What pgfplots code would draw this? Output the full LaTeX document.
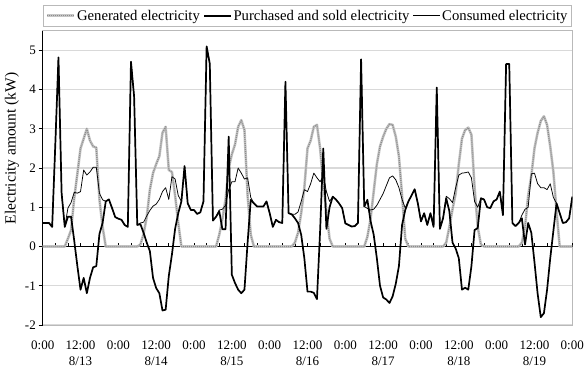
\documentclass[border=0pt]{standalone}
\usepackage{fontspec}
\setmainfont{Liberation Serif}
\usepackage{pgfplots}
\pgfplotsset{compat=1.18}
\usepackage{pgfplotstable}

% Hourly power flows over one week (kW)
% h: hours since 0:00 on 8/13; gen: generated; grid: purchased (+) / sold (-); use: consumed
\pgfplotstableread{
h gen grid use
0 0 0.60 0.60
1 0 0.60 0.60
2 0 0.60 0.60
3 0 0.50 0.50
4 0 2.60 2.60
5 0 4.82 4.82
6 0 1.36 1.36
7 0 0.50 0.50
8 0.20 0.76 0.98
9 0.42 0.76 1.12
10 1.23 0.15 1.38
11 1.86 -0.50 1.36
12 2.50 -1.10 1.40
13 2.75 -0.80 1.95
14 3.00 -1.19 1.82
15 2.70 -0.80 1.90
16 2.55 -0.53 2.02
17 2.52 -0.50 2.02
18 1.20 0.32 1.36
19 0.50 0.60 1.19
20 0 1.15 1.15
21 0 1.20 1.20
22 0 0.98 0.98
23 0 0.75 0.75
24 0 0.71 0.71
25 0 0.68 0.68
26 0 0.55 0.55
27 0 0.50 0.50
28 0 4.71 4.71
29 0 3.82 3.82
30 0 0.55 0.55
31 0.05 0.57 0.60
32 0.32 0.35 0.62
33 0.75 0.10 0.78
34 1.45 -0.12 0.92
35 1.87 -0.80 1.03
36 2.10 -1.06 1.08
37 2.30 -1.19 1.20
38 2.90 -1.63 1.40
39 3.05 -1.61 1.50
40 1.95 -0.75 1.20
41 1.90 -0.20 1.78
42 1.30 0.45 1.72
43 0.60 0.85 1.30
44 0 1.15 1.15
45 0 2.05 2.05
46 0 1.10 1.10
47 0 0.93 0.93
48 0 0.93 0.93
49 0 0.83 0.83
50 0 0.87 0.87
51 0 1.15 1.15
52 0 5.10 5.10
53 0 4.66 4.66
54 0 0.66 0.66
55 0 0.76 0.76
56 0.30 0.90 0.93
57 0.70 0.44 0.95
58 1.20 0.44 1.05
59 2.00 2.80 1.45
60 2.35 -0.72 1.65
61 2.60 -0.93 1.65
62 3.05 -1.10 2.00
63 3.22 -1.19 1.87
64 2.97 -1.10 1.72
65 1.30 0.10 1.75
66 0.30 1.19 1.25
67 0 1.10 1.10
68 0 1.02 1.02
69 0 1.02 1.02
70 0 1.02 1.02
71 0 1.15 1.15
72 0 0.85 0.85
73 0 0.50 0.50
74 0 0.68 0.68
75 0 0.62 0.62
76 0 0.60 0.60
77 0 4.20 4.20
78 0 0.85 0.85
79 0 0.82 0.82
80 0.10 0.72 0.82
81 0.35 0.60 0.88
82 0.85 0.30 1.15
83 1.50 -0.30 1.45
84 2.50 -1.15 1.40
85 2.70 -1.15 1.60
86 3.05 -1.18 1.87
87 3.10 -1.34 1.75
88 2.50 0.40 1.65
89 1.60 2.50 1.80
90 0.90 0.45 1.40
91 0.20 1.00 1.15
92 0 1.27 1.27
93 0 1.20 1.20
94 0 1.10 1.10
95 0 0.98 0.98
96 0 0.59 0.59
97 0 0.55 0.55
98 0 0.51 0.51
99 0 0.52 0.52
100 0 0.60 0.60
101 0 4.77 4.77
102 0 1.02 1.02
103 0.25 1.19 0.97
104 0.70 0.65 0.93
105 1.40 0.30 0.95
106 2.10 -0.30 1.05
107 2.55 -1.00 1.20
108 2.80 -1.30 1.35
109 3.00 -1.35 1.55
110 3.12 -1.44 1.75
111 3.10 -1.27 1.80
112 2.80 -0.95 1.70
113 2.30 -0.50 1.50
114 1.30 0.55 1.20
115 0.20 0.93 0.98
116 0 1.15 1.15
117 0 1.30 1.30
118 0 1.46 1.46
119 0 1.10 1.10
120 0 0.64 0.64
121 0 0.85 0.85
122 0 0.55 0.55
123 0 0.85 0.85
124 0 0.50 0.50
125 0 4.05 4.05
126 0 0.45 0.45
127 0 0.72 0.72
128 0.10 1.23 1.28
129 0.50 0.90 1.22
130 0.95 0.10 1.12
131 1.35 -0.05 1.50
132 2.10 -0.30 1.82
133 2.75 -1.10 1.87
134 2.97 -1.05 1.88
135 3.03 -1.10 1.90
136 2.85 -0.50 1.75
137 1.50 0.42 1.15
138 0.50 0.47 1.00
139 0.05 1.23 1.23
140 0 1.20 1.20
141 0 1.00 1.00
142 0 0.98 0.98
143 0 1.15 1.15
144 0 1.20 1.20
145 0 1.40 1.40
146 0 0.80 0.80
147 0 4.65 4.65
148 0 4.65 4.65
149 0 0.60 0.60
150 0 0.52 0.52
151 0 0.60 0.60
152 0.10 0.72 0.80
153 0.50 0.05 0.95
154 1.30 0.60 1.00
155 1.80 0.35 1.85
156 2.50 -0.40 1.87
157 2.90 -1.20 1.60
158 3.20 -1.80 1.50
159 3.32 -1.70 1.50
160 3.10 -1.10 1.45
161 2.55 -0.30 1.60
162 1.90 0.40 1.25
163 0.90 1.10 1.10
164 0 0.85 0.85
165 0 0.60 0.60
166 0 0.62 0.62
167 0 0.72 0.72
168 0 1.27 1.27
}\flows

\begin{document}
\begin{tikzpicture}[font=\fontsize{13}{15.5}\selectfont]
% frame, grid and labels
\begin{axis}[
  scale only axis,
  width=529.6pt, height=294.3pt,
  xmin=0, xmax=168, ymin=-2, ymax=5.5,
  axis line style={draw=gray!55, line width=0.8pt},
  major tick length=0pt,
  ymajorgrids,
  grid style={gray!30, line width=1.2pt},
  ytick={-2,-1,0,1,2,3,4,5},
  yticklabels={-2,-1,0,1,2,3,4,5},
  yticklabel style={xshift=-3.4pt},
  xtick={0,12,...,168},
  xticklabels={0:00,{12:00\\8/13},0:00,{12:00\\8/14},0:00,{12:00\\8/15},0:00,{12:00\\8/16},0:00,{12:00\\8/17},0:00,{12:00\\8/18},0:00,{12:00\\8/19},0:00},
  xticklabel style={align=center, yshift=-12.5pt},
  ylabel={Electricity amount (kW)},
  ylabel style={at={(axis description cs:-0.058,0.6)}, anchor=center, font=\fontsize{15.5}{17}\selectfont},
]
\coordinate (SW) at (rel axis cs:0,0);
\coordinate (NE) at (rel axis cs:1,1);
\end{axis}
% zero line, left axis and the three series
\begin{axis}[
  scale only axis,
  width=529.6pt, height=294.3pt,
  xmin=0, xmax=168, ymin=-2, ymax=5.5,
  axis x line=middle, axis y line=left,
  axis line style={-, black, line width=0.8pt},
  xtick={0,4,...,168}, xticklabels={},
  ytick={-2,-1,0,1,2,3,4,5}, yticklabels={},
  tick style={black, line width=0.7pt},
  major tick length=4pt,
  xtick align=inside, ytick align=outside,
  legend columns=3,
  legend cell align=left,
  legend image code/.code={\draw[#1] (0pt,0pt) -- (27pt,0pt);},
  legend style={at={(axis description cs:0.5,1)}, anchor=south, yshift=3.7pt,
    draw=gray!55, line width=0.7pt, inner sep=2.5pt,
    font=\fontsize{14.7}{17}\selectfont,
    nodes={inner xsep=1.5pt, inner ysep=2.5pt},
    /tikz/every even column/.append style={column sep=2pt}},
]
\addplot[gray!45, line width=2.6pt, line join=round,
  postaction={draw=gray!90, line width=1.3pt, dash pattern=on 1pt off 1pt}]
  table[x=h, y=gen]{\flows};
\addlegendentry{Generated electricity}
\addplot[black, line width=1.7pt, line join=round] table[x=h, y=grid]{\flows};
\addlegendentry{Purchased and sold electricity}
\addplot[black, line width=0.75pt, line join=round] table[x=h, y=use]{\flows};
\addlegendentry{Consumed electricity}
\end{axis}
\pgfresetboundingbox
\path[use as bounding box] ([shift={(-42.7pt,-44pt)}]SW) rectangle ([shift={(13.7pt,30.7pt)}]NE);
\end{tikzpicture}
\end{document}
